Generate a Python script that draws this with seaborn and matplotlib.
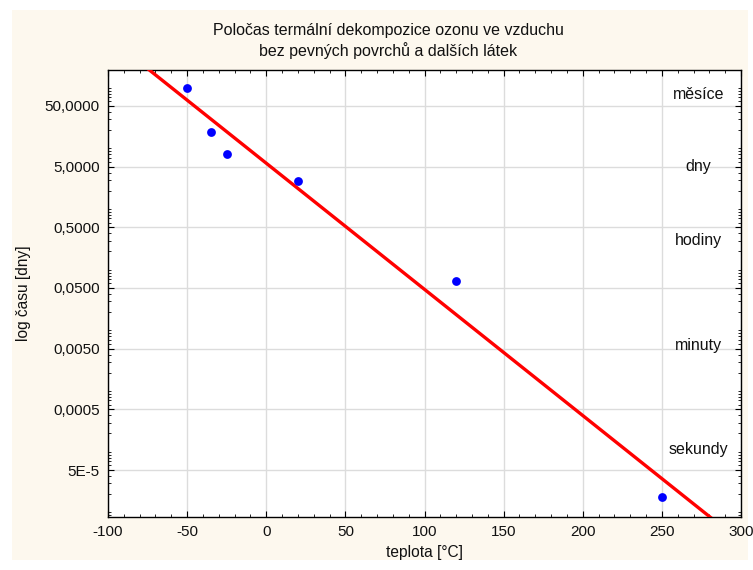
import numpy as np
import pandas as pd
import matplotlib
matplotlib.use("Agg")
import matplotlib.pyplot as plt
import seaborn as sns
from matplotlib.ticker import FixedLocator, MultipleLocator
from matplotlib.patches import Rectangle

# data
teplota = [-50, -35, -25, 20, 120, 250]
polocas_dny = [99.0, 18.7, 8.1, 2.94, 0.065, 1.8e-5]

ytick_values = [5e-5, 5e-4, 5e-3, 5e-2, 0.5, 5.0, 50.0]
ytick_labels = ["5E-5", "0,0005", "0,0050", "0,0500", "0,5000", "5,0000", "50,0000"]
xtick_values = [-100, -50, 0, 50, 100, 150, 200, 250, 300]
xtick_labels = ["-100", "-50", "0", "50", "100", "150", "200", "250", "300"]

pasma = ["měsíce", "dny", "hodiny", "minuty", "sekundy"]
pasma_y = [76.0, 5.0, 0.305, 0.0056, 1.07e-4]

title = "Poločas termální dekompozice ozonu ve vzduchu\nbez pevných povrchů a dalších látek"

df = pd.DataFrame({"teplota": teplota, "logcas": np.log10(polocas_dny)})

sns.set_theme(style="white")
plt.rcParams["font.family"] = ["Liberation Sans", "DejaVu Sans"]

fig = plt.figure(figsize=(7.53, 5.70), dpi=100, facecolor="white")
fig.patches.append(Rectangle((12 / 753, 1 - 560 / 570), 736 / 753, 550 / 570,
                             transform=fig.transFigure, facecolor="#fdf8ee",
                             edgecolor="none", zorder=-10))
ax = fig.add_axes([108 / 753, 1 - 517 / 570, 633 / 753, 447 / 570])
ax.set_facecolor("white")

ax.set_xlim(-100, 300)
ax.set_ylim(np.log10(8.4e-6), np.log10(196))

sns.regplot(data=df, x="teplota", y="logcas", ax=ax, ci=None, truncate=False,
            scatter_kws=dict(color="#0000ff", s=40, zorder=4, linewidths=0, alpha=1.0),
            line_kws=dict(color="#ff0000", lw=2.4, zorder=3))

ax.set_xticks(xtick_values)
ax.set_xticklabels(xtick_labels)
ax.set_yticks(np.log10(ytick_values))
ax.set_yticklabels(ytick_labels)
ax.xaxis.set_minor_locator(MultipleLocator(10))
minor_y = [np.log10(k * 10.0 ** n) for n in range(-6, 3) for k in range(1, 10)]
ax.yaxis.set_minor_locator(FixedLocator(minor_y))

ax.grid(True, which="major", color="#dcdcdc", lw=1.0)
ax.set_axisbelow(True)
for s in ax.spines.values():
    s.set_color("black")
    s.set_linewidth(1.0)
ax.tick_params(which="both", direction="in", top=True, right=True,
               bottom=True, left=True, color="black")
ax.tick_params(which="major", length=4, width=0.8, labelsize=11, pad=6,
               labelcolor="#111111")
ax.tick_params(which="minor", length=2.5, width=0.6)

ax.set_xlabel("teplota [°C]", fontsize=11.2, labelpad=4, color="#111111")
ax.set_ylabel("log času [dny]", fontsize=11.2, labelpad=10, color="#111111")

for txt, yv in zip(pasma, pasma_y):
    ax.text(273, np.log10(yv), txt, ha="center", va="center", fontsize=11.5,
            color="#111111", zorder=5)

fig.text(388 / 753, 1 - 41 / 570, title, ha="center", va="center",
         fontsize=11.5, linespacing=1.35, color="#111111")

fig.savefig("out.png", dpi=100, facecolor=fig.get_facecolor())
